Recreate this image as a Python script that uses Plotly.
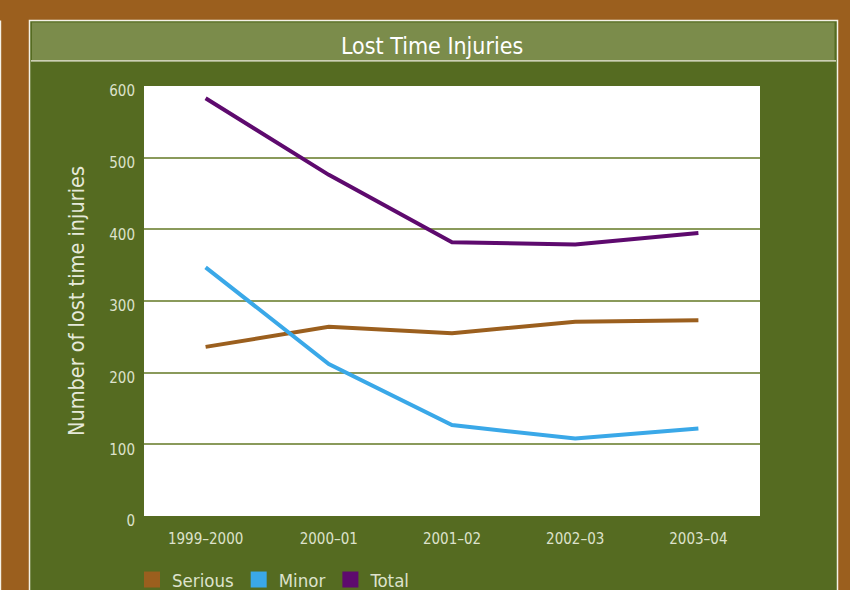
import plotly.graph_objects as go

# Financial years and injury counts per category
years = ["1999–2000", "2000–01", "2001–02", "2002–03", "2003–04"]
serious = [236, 264, 255, 271, 273]
minor = [347, 212, 127, 108, 122]
total = [583, 476, 382, 379, 395]
y_ticks = [0, 100, 200, 300, 400, 500, 600]

BROWN = "#9b5f1e"
BLUE = "#3aa8e8"
PURPLE = "#5e0a6e"
BODY_GREEN = "#556b21"
TITLE_GREEN = "#7b8c4b"
TEXT = "#dde2cc"
FONT = "Liberation Sans Narrow, DejaVu Sans Condensed, Arial Narrow, sans-serif"

W, H = 850, 590
L, R, T, B = 144, 90, 86, 74
PW, PH = W - L - R, H - T - B


def px(x):
    return (x - L) / PW


def py(y):
    return (H - B - y) / PH


fig = go.Figure()

series = [("Serious", serious, BROWN), ("Minor", minor, BLUE), ("Total", total, PURPLE)]
for name, vals, col in series:
    fig.add_trace(go.Scatter(
        x=years, y=vals, mode="lines", name=name,
        line=dict(color=col, width=4), showlegend=False,
        hoverinfo="x+y+name",
    ))
# square swatches for the legend
for name, vals, col in series:
    fig.add_trace(go.Scatter(
        x=[None], y=[None], mode="markers", name=name,
        marker=dict(symbol="square", size=16, color=col, line=dict(width=0)),
        showlegend=True,
    ))

shapes = [
    # framed panel
    dict(type="rect", xref="paper", yref="paper",
         x0=px(29.5), x1=px(837.5), y0=py(620), y1=py(20.5),
         fillcolor=BODY_GREEN, line=dict(color="#f4f1e6", width=1.5), layer="below"),
    # title bar
    dict(type="rect", xref="paper", yref="paper",
         x0=px(32), x1=px(834.5), y0=py(60), y1=py(22.5),
         fillcolor=TITLE_GREEN, line=dict(width=0), layer="below"),
    dict(type="line", xref="paper", yref="paper",
         x0=px(31), x1=px(836), y0=py(60.8), y1=py(60.8),
         line=dict(color="#f4f1e6", width=1.2), layer="below"),
    # edge of neighbouring panel
    dict(type="line", xref="paper", yref="paper",
         x0=px(0.6), x1=px(0.6), y0=py(20.5), y1=py(620),
         line=dict(color="#f4f1e6", width=1.2), layer="below"),
    # white plotting area
    dict(type="rect", xref="paper", yref="paper",
         x0=0, x1=1, y0=0, y1=1,
         fillcolor="white", line=dict(width=0), layer="below"),
]

fig.update_layout(
    width=W, height=H,
    margin=dict(l=L, r=R, t=T, b=B, pad=0, autoexpand=False),
    paper_bgcolor=BROWN,
    plot_bgcolor="white",
    font=dict(family=FONT, color=TEXT),
    shapes=shapes,
    showlegend=True,
    legend=dict(
        orientation="h", x=px(132), xanchor="left", y=py(580), yanchor="middle",
        bgcolor="rgba(0,0,0,0)", font=dict(family=FONT, size=18.5, color=TEXT),
        itemwidth=30, tracegroupgap=0,
    ),
    annotations=[dict(
        text="Lost Time Injuries", xref="paper", yref="paper",
        x=px(432), y=py(46), xanchor="center", yanchor="middle", showarrow=False,
        font=dict(family=FONT, size=23, color="white"),
    )],
)

fig.update_xaxes(
    type="category", range=[-0.5, 4.5], showgrid=False, zeroline=False,
    showline=False, ticks="", ticklabelstandoff=12,
    tickfont=dict(family=FONT, size=15, color=TEXT),
)
fig.update_yaxes(
    range=[0, 600], tickvals=y_ticks, showgrid=True, gridcolor="#8a9a5b",
    gridwidth=1.5, zeroline=False, showline=False, ticks="",
    ticklabelstandoff=8, ticklabelshift=5,
    tickfont=dict(family=FONT, size=15, color=TEXT),
    title=dict(text="Number of lost time injuries", standoff=18,
               font=dict(family=FONT, size=21.5, color="#e6e9da")),
)

fig.write_html("out.html")
